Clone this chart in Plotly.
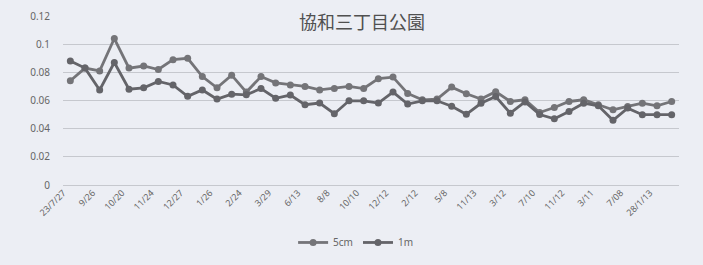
import plotly.graph_objects as go

title = "協和三丁目公園"
tick_labels = ["23/7/27", "9/26", "10/20", "11/24", "12/27", "1/26", "2/24", "3/29",
               "6/13", "8/8", "10/10", "12/12", "2/12", "5/8", "11/13", "3/12",
               "7/10", "11/12", "3/11", "7/08", "28/1/13"]
n_points = 42
x_idx = list(range(n_points))
tick_idx = list(range(0, n_points, 2))[:len(tick_labels)]

s_5cm = [0.074, 0.083, 0.081, 0.104, 0.083, 0.0845, 0.082, 0.089, 0.090, 0.077,
         0.069, 0.078, 0.066, 0.077, 0.0725, 0.071, 0.070, 0.0675, 0.0685, 0.070,
         0.0685, 0.0755, 0.0766, 0.065, 0.0605, 0.0610, 0.0695, 0.0648, 0.0610, 0.0663,
         0.0593, 0.0605, 0.0515, 0.0550, 0.0593, 0.0605, 0.0570, 0.0534, 0.0558, 0.0581,
         0.0562, 0.0593]
s_1m = [0.088, 0.083, 0.0675, 0.087, 0.068, 0.069, 0.0735, 0.071, 0.063, 0.0675,
        0.061, 0.0645, 0.064, 0.0685, 0.0616, 0.0639, 0.057, 0.0582, 0.0506, 0.0598,
        0.0598, 0.0582, 0.0660, 0.0575, 0.0598, 0.0598, 0.0559, 0.0502, 0.0580, 0.0628,
        0.0510, 0.0590, 0.0500, 0.0470, 0.0522, 0.0581, 0.0562, 0.0459, 0.0546, 0.0499,
        0.0499, 0.0499]
names = ["5cm", "1m"]
y_ticks = [0, 0.02, 0.04, 0.06, 0.08, 0.1, 0.12]
y_tick_text = ["0", "0.02", "0.04", "0.06", "0.08", "0.1", "0.12"]

fig = go.Figure()
for nm, vals, col in [(names[0], s_5cm, "#747478"), (names[1], s_1m, "#646469")]:
    fig.add_trace(go.Scatter(
        x=x_idx, y=vals, name=nm, mode="lines+markers",
        line=dict(color=col, width=2.8),
        marker=dict(color=col, size=7, symbol="circle"),
    ))

fig.update_layout(
    width=703, height=265,
    margin=dict(l=63, r=24, t=16, b=80, autoexpand=False),
    paper_bgcolor="#eceef4",
    plot_bgcolor="#eceef4",
    font=dict(family="Noto Sans, Noto Sans CJK JP", color="#666666", size=10),
    title=dict(text=title, x=0.515, xanchor="center", y=0.915, yanchor="middle",
               yref="container",
               font=dict(family="Noto Sans CJK JP", size=18, color="#505050")),
    showlegend=True,
    legend=dict(orientation="h", x=0.475, xanchor="center", yref="container",
                y=0.085, yanchor="middle",
                font=dict(size=10, color="#666666"), bgcolor="rgba(0,0,0,0)",
                tracegroupgap=0),
)
fig.update_xaxes(
    range=[-0.5, n_points - 0.5], automargin=False,
    tickmode="array", tickvals=tick_idx, ticktext=tick_labels,
    tickangle=-45, showgrid=False, zeroline=False, showline=False,
    tickfont=dict(size=9, color="#666666"), ticks="", ticklabelshift=-7,
)
fig.update_yaxes(
    range=[0, 0.12], tickmode="array", tickvals=y_ticks, ticktext=y_tick_text,
    automargin=False,
    showgrid=True, gridcolor="#c6c8ce", gridwidth=1, zeroline=True,
    zerolinecolor="#c6c8ce", zerolinewidth=1, showline=False,
    tickfont=dict(size=10, color="#666666"), ticklabelstandoff=12,
)

fig.write_html(
    "out.html",
    config={"displayModeBar": False},
    post_script="document.body.style.margin='0';document.body.style.background='#eceef4';",
)
